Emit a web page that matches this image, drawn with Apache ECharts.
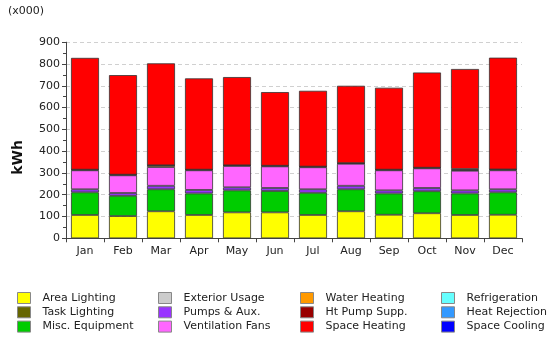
<!DOCTYPE html>
<html><head><meta charset="utf-8">
<script src="https://cdn.jsdelivr.net/npm/echarts@6/dist/echarts.min.js"></script>
<style>html,body{margin:0;padding:0;background:#fff}#c{width:550px;height:337px}</style>
</head><body><div id="c"></div>
<script>
const months = ['Jan','Feb','Mar','Apr','May','Jun','Jul','Aug','Sep','Oct','Nov','Dec'];
const yTicks = [0,100,200,300,400,500,600,700,800,900];
const areaLighting   = [107,102,124,107,119,119,107,124,108,115,107,108];
const taskLighting   = [0,0,0,0,0,0,0,0,0,0,0,0];
const miscEquipment  = [104,93,101,99,101,98,102,101,98,101,99,103];
const exteriorUsage  = [0,0,0,0,0,0,0,0,0,0,0,0];
const pumpsAux       = [14,13,16,16,14,14,16,16,14,15,14,14];
const ventFans       = [87,81,86,90,98,99,101,101,92,90,90,87];
const waterHeating   = [3,3,8,3,3,3,3,3,3,3,3,3];
const htPumpSupp     = [0,0,0,0,0,0,0,0,0,0,5,1];
const spaceHeating   = [513,457,468,419,405,338,348,355,376,437,459,513];
const refrigeration  = [0,0,0,0,0,0,0,0,0,0,0,0];
const heatRejection  = [0,0,0,0,0,0,0,0,0,0,0,0];
const spaceCooling   = [0,0,0,0,0,0,0,0,0,0,0,0];

const seriesDefs = [
  ['Area Lighting', areaLighting, '#FFFF00'],
  ['Task Lighting', taskLighting, '#666600'],
  ['Misc. Equipment', miscEquipment, '#00CC00'],
  ['Exterior Usage', exteriorUsage, '#CCCCCC'],
  ['Pumps & Aux.', pumpsAux, '#9933FF'],
  ['Ventilation Fans', ventFans, '#FF66FF'],
  ['Water Heating', waterHeating, '#FF9900'],
  ['Ht Pump Supp.', htPumpSupp, '#990000'],
  ['Space Heating', spaceHeating, '#FF0000'],
  ['Refrigeration', refrigeration, '#66FFFF'],
  ['Heat Rejection', heatRejection, '#3399FF'],
  ['Space Cooling', spaceCooling, '#0000FF']
];
const legendCols = [
  ['Area Lighting','Task Lighting','Misc. Equipment'],
  ['Exterior Usage','Pumps & Aux.','Ventilation Fans'],
  ['Water Heating','Ht Pump Supp.','Space Heating'],
  ['Refrigeration','Heat Rejection','Space Cooling']
];
const legendLeft = [17, 158, 300, 441];
const FONT = 'DejaVu Sans';

const chart = echarts.init(document.getElementById('c'), null, {renderer:'canvas'});
chart.setOption({
  animation: false,
  textStyle: {fontFamily: FONT},
  graphic: [
    {type:'text', left:8, top:6, style:{text:'(x000)', font:'11px "DejaVu Sans"', fill:'#222'}},
    {type:'text', left:11, top:140, rotation:Math.PI/2, style:{text:'kWh', font:'bold 14px "DejaVu Sans"', fill:'#111', textAlign:'center', textVerticalAlign:'middle'}}
  ],
  grid: {left:66, right:28, top:42.2, bottom:98.7},
  legend: legendCols.map((names, i) => ({
    data: names, orient:'vertical', left: legendLeft[i], top: 292, padding: 0,
    itemWidth: 13, itemHeight: 11, itemGap: 2.3, icon: 'rect',
    selectedMode: false,
    itemStyle: {borderColor:'#888', borderWidth:1},
    textStyle: {fontFamily: FONT, fontSize: 11, color:'#222', padding:[0,0,0,7]}
  })),
  xAxis: {
    type:'category', data: months,
    axisLine:{lineStyle:{color:'#444', width:1}},
    axisTick:{show:true, alignWithLabel:false, length:4, lineStyle:{color:'#444'}},
    axisLabel:{fontFamily: FONT, fontSize:11, color:'#222', margin:7}
  },
  yAxis: {
    type:'value', min: yTicks[0], max: yTicks[yTicks.length-1], interval: 100,
    axisLine:{show:true, lineStyle:{color:'#444', width:1}},
    axisTick:{show:true, length:4, lineStyle:{color:'#444'}},
    minorTick:{show:true, splitNumber:2, length:3, lineStyle:{color:'#444'}},
    splitLine:{show:true, lineStyle:{color:'#d0d0d0', type:[4,3]}},
    axisLabel:{fontFamily: FONT, fontSize:11, color:'#222', margin:6}
  },
  series: seriesDefs.map(([name, data, color]) => ({
    name, type:'bar', stack:'total', data, barWidth: 28,
    itemStyle:{color, borderColor:'#333', borderWidth: data.some(v => v > 0) ? 0.8 : 0}
  }))
});
</script></body></html>
